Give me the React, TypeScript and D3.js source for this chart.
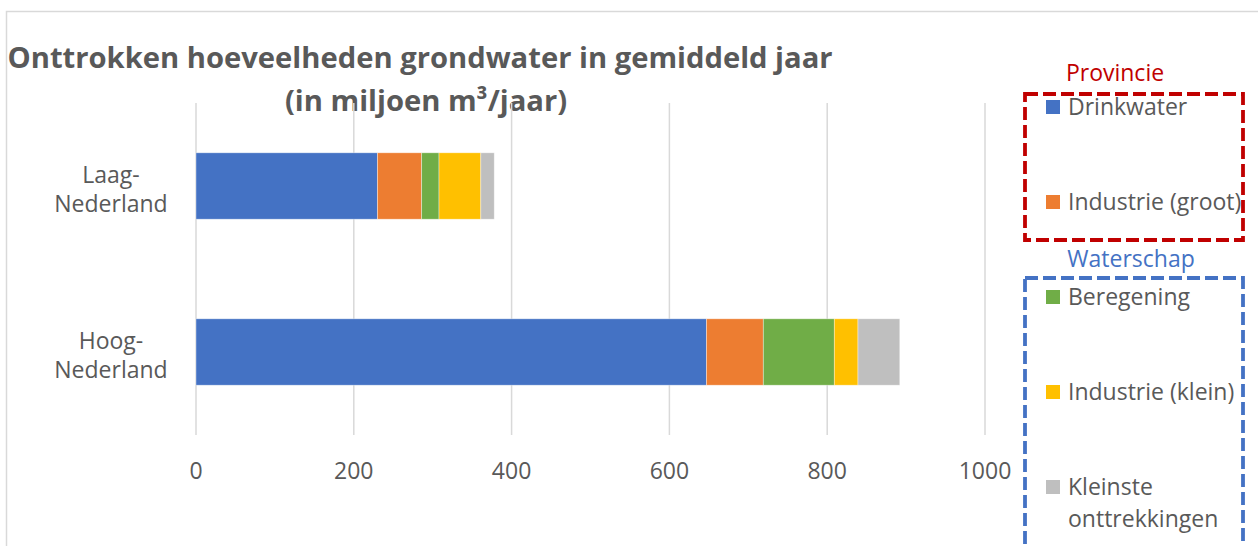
import React from "react";
import * as d3 from "d3";

const categories = ["Laag-Nederland", "Hoog-Nederland"];
const categoryLines = [["Laag-", "Nederland"], ["Hoog-", "Nederland"]];
const seriesNames = ["Drinkwater", "Industrie (groot)", "Beregening", "Industrie (klein)", "Kleinste onttrekkingen"];
const drinkwater = [230, 647];
const industrieGroot = [56, 72];
const beregening = [22, 90];
const industrieKlein = [53, 30];
const kleinste = [17, 53];
const xTicks = [0, 200, 400, 600, 800, 1000];
const colors = ["#4472C4", "#ED7D31", "#70AD47", "#FFC000", "#BFBFBF"];

const FONT = "'Open Sans', 'Noto Sans', sans-serif";
const GRAY = "#595959";

export default function App() {
  const W = 1258, H = 546;
  const x = d3.scaleLinear().domain([0, 1000]).range([196, 985]);
  const y = d3.scaleBand<string>().domain(categories).range([103, 435]).paddingInner(0.6).paddingOuter(0.3);
  const seriesValues = [drinkwater, industrieGroot, beregening, industrieKlein, kleinste];
  const rows = categories.map((c, i) => {
    const r: any = { cat: c };
    seriesNames.forEach((s, j) => (r[s] = seriesValues[j][i]));
    return r;
  });
  const stacked = d3.stack<any>().keys(seriesNames)(rows);
  const color = d3.scaleOrdinal<string, string>().domain(seriesNames).range(colors);

  const legendY = d3.scalePoint<string>().domain(seriesNames).range([107, 487]);

  return (
    <svg width={W} height={H} style={{ position: "absolute", left: 0, top: 0, background: "#fff" }} fontFamily={FONT}>
      <rect x={6.5} y={11.5} width={1400} height={800} fill="#fff" stroke="#d9d9d9" strokeWidth={1.5} />
      {/* title */}
      <text x={420} y={68} textAnchor="middle" fontWeight="bold" fontSize={29.2} fill={GRAY}>
        Onttrokken hoeveelheden grondwater in gemiddeld jaar
      </text>
      <text x={426} y={111} textAnchor="middle" fontWeight="bold" fontSize={29.2} fill={GRAY}>
        (in miljoen m³/jaar)
      </text>
      {/* gridlines */}
      {xTicks.map((t) => (
        <line key={t} x1={x(t)} x2={x(t)} y1={103} y2={435} stroke="#d9d9d9" strokeWidth={1.5} />
      ))}
      {/* bars */}
      {stacked.map((s) =>
        s.map((d, i) => (
          <rect
            key={s.key + i}
            x={x(d[0])}
            y={y(categories[i])}
            width={x(d[1]) - x(d[0])}
            height={y.bandwidth()}
            fill={color(s.key)}
            stroke="#ffffff"
            strokeOpacity={0.5}
            strokeWidth={0.75}
          />
        ))
      )}
      {/* category labels */}
      {categories.map((c, i) => {
        const cy = (y(c) as number) + y.bandwidth() / 2;
        return (
          <text key={c} x={111} textAnchor="middle" fontSize={23} fill={GRAY}>
            <tspan x={111} y={cy - 3}>{categoryLines[i][0]}</tspan>
            <tspan x={111} y={cy + 26}>{categoryLines[i][1]}</tspan>
          </text>
        );
      })}
      {/* x tick labels */}
      {xTicks.map((t) => (
        <text key={t} x={x(t)} y={479} textAnchor="middle" fontSize={23} fill={GRAY}>
          {t}
        </text>
      ))}
      {/* legend groups */}
      <text x={1115} y={81} textAnchor="middle" fontSize={23} fill="#C00000">Provincie</text>
      <rect x={1025} y={94} width={218} height={146} fill="none" stroke="#C00000" strokeWidth={3.8} strokeDasharray="13 5" />
      <text x={1131} y={267} textAnchor="middle" fontSize={23} fill="#4472C4">Waterschap</text>
      <rect x={1025} y={278} width={218} height={320} fill="none" stroke="#4472C4" strokeWidth={3.8} strokeDasharray="13 5" />
      {seriesNames.map((s) => {
        const ly = legendY(s) as number;
        const words = s === "Kleinste onttrekkingen" ? ["Kleinste", "onttrekkingen"] : [s];
        return (
          <g key={s}>
            <rect x={1046} y={ly - 7} width={14} height={14} fill={color(s)} />
            <text fontSize={23} fill={GRAY}>
              {words.map((w, k) => (
                <tspan key={k} x={1068} y={ly + 8 + k * 32}>{w}</tspan>
              ))}
            </text>
          </g>
        );
      })}
    </svg>
  );
}
